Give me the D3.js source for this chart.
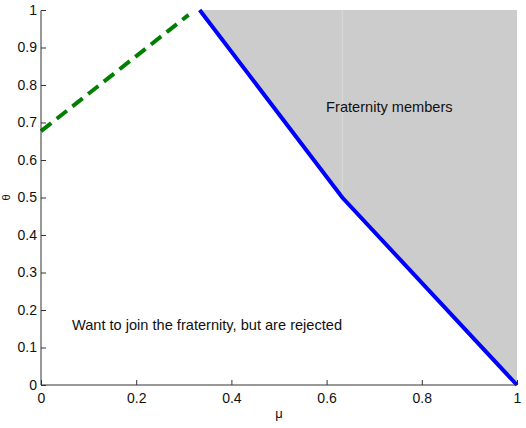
<!DOCTYPE html>
<html lang="en">
<head>
  <meta charset="utf-8">
  <title>Fraternity</title>
  <script src="https://d3js.org/d3.v7.min.js"></script>
  <style>
    body { margin: 0; background: #fff; }
    #chart text { font-family: "Liberation Sans", Arial, sans-serif; font-size: 14px; fill: #111; }
    .axis path, .axis line { stroke: #333; }
  </style>
</head>
<body>
  <div id="chart"></div>
  <script>
    // boundary of fraternity members (blue)
    var boundaryMu = [1 / 3, 0.633, 1];
    var boundaryTheta = [1, 0.5, 0];
    // dashed green line
    var dashMu = [0, 0.31];
    var dashTheta = [0.677, 0.987];
    var xTicks = [0, 0.2, 0.4, 0.6, 0.8, 1];
    var yTicks = [0, 0.1, 0.2, 0.3, 0.4, 0.5, 0.6, 0.7, 0.8, 0.9, 1];

    var W = 526, H = 428;
    var margin = {top: 10, right: 9, bottom: 43, left: 41};
    var w = W - margin.left - margin.right,
        h = H - margin.top - margin.bottom;

    var svg = d3.select('#chart').append('svg')
        .attr('width', W).attr('height', H);
    var g = svg.append('g')
        .attr('transform', 'translate(' + margin.left + ',' + margin.top + ')');

    var x = d3.scaleLinear().domain([0, 1]).range([0, w]);
    var y = d3.scaleLinear().domain([0, 1]).range([h, 0]);

    var boundary = boundaryMu.map((m, i) => [m, boundaryTheta[i]]);
    var line = d3.line().x(d => x(d[0])).y(d => y(d[1]));

    // grey region above boundary
    var region = boundary.concat([[1, 1]]);
    g.append('path')
        .attr('d', line(region) + 'Z')
        .attr('fill', '#cccccc');
    // faint seam in the fill
    g.append('line')
        .attr('x1', x(boundaryMu[1])).attr('x2', x(boundaryMu[1]))
        .attr('y1', y(1)).attr('y2', y(boundaryTheta[1]))
        .attr('stroke', '#d9d9d9').attr('stroke-width', 1);

    g.append('path')
        .attr('d', line(boundary))
        .attr('fill', 'none')
        .attr('stroke', '#0000ff')
        .attr('stroke-width', 4);

    var dash = dashMu.map((m, i) => [m, dashTheta[i]]);
    g.append('path')
        .attr('d', line(dash))
        .attr('fill', 'none')
        .attr('stroke', '#007f00')
        .attr('stroke-width', 4)
        .attr('stroke-dasharray', '13,7');

    // axes, ticks pointing inward
    g.append('g').attr('class', 'axis')
        .attr('transform', 'translate(0,' + h + ')')
        .call(d3.axisBottom(x).tickValues(xTicks).tickSize(-5).tickPadding(8).tickFormat(d3.format('')))
        .call(a => a.selectAll('text').attr('dy', '0.71em'));
    g.append('g').attr('class', 'axis')
        .call(d3.axisLeft(y).tickValues(yTicks).tickSize(-5).tickPadding(4).tickFormat(d3.format('')));
    svg.selectAll('.axis path').attr('d', function () {
      return d3.select(this.parentNode).attr('transform') ? 'M0.5,0H' + w : 'M0,0.5V' + h;
    });
    g.selectAll('.axis text').style('font-size', '14px');

    g.append('text')
        .attr('x', w / 2).attr('y', h + 33)
        .attr('text-anchor', 'middle')
        .style('font-size', '13px')
        .text('\u03bc');
    g.append('text')
        .attr('transform', 'translate(' + (-31) + ',' + (h / 2) + ') rotate(-90)')
        .attr('text-anchor', 'middle')
        .style('font-size', '11px')
        .text('\u03b8');

    g.append('text')
        .attr('x', x(0.065)).attr('y', y(0.148))
        .style('font-size', '14.6px')
        .text('Want to join the fraternity, but are rejected');
    g.append('text')
        .attr('x', x(0.599)).attr('y', y(0.728))
        .style('font-size', '14.6px')
        .text('Fraternity members');
  </script>
</body>
</html>
